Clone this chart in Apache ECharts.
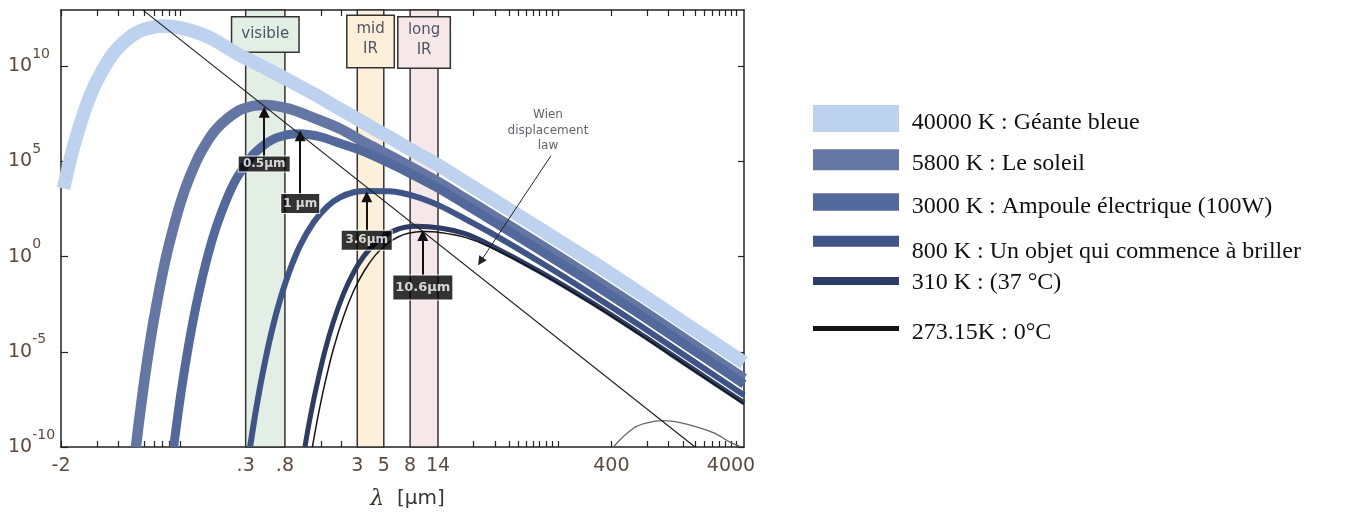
<!DOCTYPE html>
<html><head><meta charset="utf-8">
<script src="https://cdn.jsdelivr.net/npm/echarts@6/dist/echarts.min.js"></script>
<style>html,body{margin:0;padding:0;background:#fff}#c{width:1371px;height:515px}</style>
</head><body><div id="c"></div>
<script>
// ---- DATA: [wavelength (µm), spectral radiance (a.u.)] ----
const curve40000 = [[0.0105,3.8e3],[0.011,1.4e4],[0.012,1.4e5],[0.013,9.4e5],[0.015,1.8e7],[0.017,1.7e8],[0.02,1.75e9],[0.025,2.1e10],[0.03,9.3e10],[0.04,4.4e11],[0.05,8.7e11],[0.0724,1.28e12],[0.1,1.02e12],[0.15,4.8e11],[0.2,2.0e11],[0.3,4.3e10],[0.5,8.6e9],[0.746,2.3e9],[1.267,3.8e8],[2.152,5.6e7],[3.482,9.9e6],[5.633,1.75e6],[9.12,3.1e5],[14.75,5.5e4],[23.88,8.3e3],[38.64,1.26e3],[101.2,29],[264.9,0.64],[693.5,1.2e-2],[1816,2.1e-4],[5138,2.7e-6]];
const curve5800 = [[0.0423,1e-10],[0.045,2.5e-9],[0.05,3.7e-7],[0.055,2.1e-5],[0.06,5.8e-4],[0.07,9.8e-2],[0.08,4.2],[0.1,6.9e2],[0.12,1.7e4],[0.15,3.5e5],[0.2,5.2e6],[0.3,4.3e7],[0.4,8.1e7],[0.5,9.2e7],[0.6,8.5e7],[0.8,5.9e7],[1.0,3.7e7],[1.208,2.3e7],[2.152,5.2e6],[3.482,9.6e5],[5.633,2.0e5],[9.12,3.9e4],[14.75,7.2e3],[23.88,1.13e3],[38.64,1.8e2],[101.2,4.2],[264.9,9.1e-2],[693.5,1.8e-3],[1816,3.1e-5],[5138,3.9e-7]];
const curve3000 = [[0.0875,1e-10],[0.095,5.2e-9],[0.105,3.9e-7],[0.12,6.0e-5],[0.14,8.3e-3],[0.17,1.33],[0.2,41],[0.25,1.6e3],[0.3,1.6e4],[0.4,2.1e5],[0.5,7.4e5],[0.6,1.5e6],[0.7,2.1e6],[0.8,2.6e6],[0.966,2.8e6],[1.2,2.5e6],[1.5,1.9e6],[2.152,8.9e5],[3.482,3.1e5],[5.633,7.7e4],[9.12,1.7e4],[14.75,3.4e3],[23.88,5.5e2],[38.64,88],[101.2,2.1],[264.9,4.7e-2],[693.5,9.1e-4],[1816,1.6e-5],[5138,2.0e-7]];
const curve800 = [[0.381,1e-10],[0.42,4.9e-9],[0.47,2.6e-7],[0.55,3.1e-5],[0.65,2.1e-3],[0.8,0.13],[1.0,3.9],[1.3,66],[1.7,4.5e2],[2.152,1.28e3],[2.8,2.4e3],[3.62,2.8e3],[5.633,2.7e3],[9.12,1.46e3],[14.75,4.6e2],[23.88,96],[38.64,18.5],[101.2,0.52],[264.9,1.2e-2],[693.5,2.4e-4],[1816,4.2e-6],[5138,5.3e-8]];
const curve310 = [[1.095,1e-10],[1.2,2.6e-9],[1.35,1.0e-7],[1.6,9.6e-6],[1.9,4.0e-4],[2.3,1.1e-2],[2.8,0.15],[3.4,1.03],[4.2,4.8],[5.2,13.9],[6.5,27],[7.52,35],[9.35,39],[14.75,32],[23.88,16],[38.64,4.1],[101.2,0.16],[264.9,4.4e-3],[693.5,9.1e-5],[1816,1.6e-6],[5138,2.1e-8]];
const curve273 = [[1.265,1e-10],[1.4,3.4e-9],[1.6,1.9e-7],[1.9,1.5e-5],[2.3,7.0e-4],[2.8,1.6e-2],[3.4,0.16],[4.2,1.09],[5.2,4.2],[6.5,10.4],[8.0,16.8],[10.6,20.8],[14.75,18.5],[23.88,10.2],[38.64,3.2],[101.2,0.14],[264.9,3.8e-3],[693.5,8.0e-5],[1816,1.4e-6],[5138,1.8e-8]];
const curveCMB = [[415,1e-10],[607,9.4e-10],[809,1.9e-9],[1080,2.4e-9],[1500,1.9e-9],[2080,1.1e-9],[2940,5.2e-10],[3920,1.8e-10],[4920,1e-10]];
const wienLine = [[0.0485,8.8e12],[2000,1e-10]];

const seriesNames = ['40000 K : Géante bleue','5800 K : Le soleil','3000 K : Ampoule électrique (100W)','800 K : Un objet qui commence à briller','310 K : (37 °C)','273.15K : 0°C'];

const bandNames = ['visible','mid\nIR','long\nIR'];
const bandFrom = [0.35, 3, 8.3];
const bandTo = [0.745, 5, 14.2];

const peakNames = ['0.5μm','1 μm','3.6μm','10.6μm'];
const peakLambda = [0.5, 1, 3.6, 10.6];
const arrowTail = [1.7e5, 1.9e3, 22, 0.10];
const arrowHead = [3.8e7, 2.2e6, 1.4e3, 13];
const peakLabelAt = [7.2e4, 6.2e2, 7.2, 0.024];

const wienText = 'Wien\ndisplacement\nlaw';
const wienTextAt = [118, 4.1e6];
const wienArrow = [[125, 2.0e5],[32.2, 0.55]];

const xLabelVals = [0.01, 0.35, 0.745, 3, 5, 8.3, 14.2, 400, 4000];
const xLabelTexts = ['-2', '.3', '.8', '3', '5', '8', '14', '400', '4000'];
const xMinorTicks = [0.01,0.02,0.03,0.04,0.05,0.06,0.07,0.08,0.09,0.1,1.5,2.2,28,43,55.5,66,77.6,88,100,114,129,143,400,800,1200,1600,2000,2400,2800,3200,3600,4000,4400];
const yTickExps = [-10,-5,0,5,10];

// ---- styles / layout ----
const L = Math.log10;
const toXY = a => a.map(p => [L(p[0]), L(p[1])]);
const X_MIN = -2, X_MAX = 3.7107, Y_MIN = -10, Y_MAX = 12.95;
const axisCol = '#222', lblCol = '#5c4a3d';
const colors = ['#bcd2ee','#6477a4','#53689b','#3f5588','#2c3c64','#151515'];
const widths = [13.5, 10.5, 9, 6, 5, 1.5];
const zs = [5, 6, 7, 8, 9, 10];
const curves = [curve40000, curve5800, curve3000, curve800, curve310, curve273];
const bandFill = ['#e3efe4','#fdf0da','#f6e8e8'];
const bandLbl = [
  {width:66, lineHeight:34, padding:0, distance:8.3},
  {width:46, lineHeight:20, padding:[3,0,8,0], distance:6.7},
  {width:51, lineHeight:20, padding:[3,0,7,0], distance:8.3}
];
const peakBox = [[51,15,12],[38,19,12],[50,19,12],[59,24,13]];
const iconTop = [105, 149.3, 193.3, 235.7, 277, 326];
const iconH = [27, 21, 17.4, 11, 8, 5];
const textMid = [123, 164, 207, 251.5, 282.5, 333];

const chart = echarts.init(document.getElementById('c'), null, {renderer:'canvas'});

const series = [];
series.push({
  type:'line', data:[], silent:true, z:1,
  markArea:{
    silent:true,
    data: bandNames.map((n,i)=>[
      {xAxis:L(bandFrom[i]), name:n,
       itemStyle:{color:bandFill[i], borderColor:'#333', borderWidth:1.5},
       label:{show:true, position:'insideTop', distance:bandLbl[i].distance, formatter:n,
         backgroundColor:bandFill[i], borderColor:'#333', borderWidth:1.5,
         width:bandLbl[i].width, lineHeight:bandLbl[i].lineHeight, padding:bandLbl[i].padding,
         align:'center', fontFamily:'DejaVu Sans', fontSize:15, color:'#4d5563'}},
      {xAxis:L(bandTo[i])}
    ])
  }
});
curves.forEach((c,i)=>{
  series.push({
    type:'line', name:seriesNames[i], data:toXY(c), symbol:'none', showSymbol:false,
    smooth:0.3, clip:true, z:zs[i], silent:true,
    lineStyle:{color:colors[i], width:widths[i], cap:'butt', join:'round'},
    itemStyle:{color:colors[i]}, emphasis:{disabled:true}
  });
});
series.push({type:'line', data:toXY(curveCMB), symbol:'none', smooth:0.4, z:11, silent:true,
  lineStyle:{color:'#666', width:1.3}, emphasis:{disabled:true}});
series.push({type:'line', data:toXY(wienLine), symbol:'none', z:12, silent:true,
  lineStyle:{color:'#222', width:1.2}, emphasis:{disabled:true}});
series.push({type:'lines', coordinateSystem:'cartesian2d', xAxisIndex:0, yAxisIndex:0, silent:true, z:20,
  symbol:['none','triangle'], symbolSize:11,
  lineStyle:{color:'#111', width:2, opacity:1, curveness:0},
  data: peakLambda.map((l,i)=>({coords:[[L(l),L(arrowTail[i])],[L(l),L(arrowHead[i])]]}))
});
series.push({type:'lines', coordinateSystem:'cartesian2d', xAxisIndex:0, yAxisIndex:0, silent:true, z:20,
  symbol:['none','triangle'], symbolSize:9,
  lineStyle:{color:'#222', width:1, opacity:1, curveness:0},
  data:[{coords: toXY(wienArrow)}]
});
series.push({type:'scatter', silent:true, z:25, symbolSize:1, itemStyle:{color:'rgba(0,0,0,0)'},
  label:{show:true, position:'inside', color:'#fff', backgroundColor:'#000', borderColor:'#fff', borderWidth:1,
    fontFamily:'DejaVu Sans', fontWeight:'bold', align:'center', verticalAlign:'middle'},
  data: peakLambda.map((l,i)=>({value:[L(l), L(peakLabelAt[i])],
    label:{formatter:peakNames[i], width:peakBox[i][0], lineHeight:peakBox[i][1], fontSize:peakBox[i][2]}}))
});
series.push({type:'scatter', silent:true, z:25, symbolSize:1, itemStyle:{color:'rgba(0,0,0,0)'},
  label:{show:true, position:'inside', formatter:wienText, fontFamily:'DejaVu Sans', fontSize:12, lineHeight:15.5,
    color:'#3a3a48', align:'center', verticalAlign:'middle'},
  data:[{value:toXY([wienTextAt])[0]}]
});

const yLabelRich = {
  b:{fontFamily:'DejaVu Sans', fontSize:19, color:lblCol, lineHeight:38},
  s:{fontFamily:'DejaVu Sans', fontSize:14, color:lblCol, lineHeight:16, verticalAlign:'top'}
};

const legends = [];
seriesNames.forEach((n,i)=>{
  legends.push({data:[n], orient:'vertical', left:813, top:iconTop[i], padding:0,
    itemWidth:86, itemHeight:iconH[i], icon:'rect', selectedMode:false,
    itemStyle:{borderWidth:0}, formatter:()=>'', textStyle:{fontSize:1}});
  legends.push({data:[n], orient:'vertical', left:905.7, top:textMid[i]-12, padding:0,
    itemWidth:1, itemHeight:1, icon:'rect', selectedMode:false,
    itemStyle:{color:'rgba(0,0,0,0)', borderWidth:0},
    textStyle:{fontFamily:'Liberation Serif', fontSize:24, lineHeight:24, color:'#111'}});
});

const option = {
  animation:false,
  backgroundColor:'#fff',
  grid:{left:61, right:627, top:10, bottom:63, containLabel:false},
  xAxis:[
    {type:'value', min:X_MIN, max:X_MAX, position:'bottom',
     axisLine:{show:true, onZero:false, lineStyle:{color:axisCol, width:1.5}},
     axisTick:{show:true, inside:true, length:6, customValues:xMinorTicks.map(L), lineStyle:{color:axisCol, width:1.2}},
     axisLabel:{show:true, customValues:xLabelVals.map(L), margin:10,
       formatter:v=>{const i=xLabelVals.findIndex(t=>Math.abs(L(t)-v)<1e-9); return i>=0?xLabelTexts[i]:'';},
       fontFamily:'DejaVu Sans', fontSize:19, lineHeight:19, color:lblCol},
     splitLine:{show:false},
     name:'{l|λ}  [μm]', nameLocation:'middle', nameGap:42,
     nameTextStyle:{fontFamily:'DejaVu Sans', fontSize:20, lineHeight:20, color:'#3b3433', padding:[0,0,0,10],
       rich:{l:{fontFamily:'DejaVu Serif', fontStyle:'italic', fontSize:22, color:'#3b3433'}}}
    },
    {type:'value', min:X_MIN, max:X_MAX, position:'top',
     axisLine:{show:true, onZero:false, lineStyle:{color:axisCol, width:1.5}},
     axisTick:{show:true, inside:true, length:6, customValues:xMinorTicks.map(L), lineStyle:{color:axisCol, width:1.2}},
     axisLabel:{show:false}, splitLine:{show:false}}
  ],
  yAxis:[
    {type:'value', min:Y_MIN, max:Y_MAX, position:'left',
     axisLine:{show:true, onZero:false, lineStyle:{color:axisCol, width:1.5}},
     axisTick:{show:true, inside:true, length:7, customValues:yTickExps, lineStyle:{color:axisCol, width:1.2}},
     axisLabel:{show:true, customValues:yTickExps, align:'left', margin:53,
       formatter:v=>'{b|10}{s|'+v+'}', rich:yLabelRich},
     splitLine:{show:false}},
    {type:'value', min:Y_MIN, max:Y_MAX, position:'right',
     axisLine:{show:true, onZero:false, lineStyle:{color:axisCol, width:1.5}},
     axisTick:{show:true, inside:true, length:6, customValues:yTickExps, lineStyle:{color:axisCol, width:1.2}},
     axisLabel:{show:false}, splitLine:{show:false}}
  ],
  legend: legends,
  series
};
chart.setOption(option);
</script></body></html>
